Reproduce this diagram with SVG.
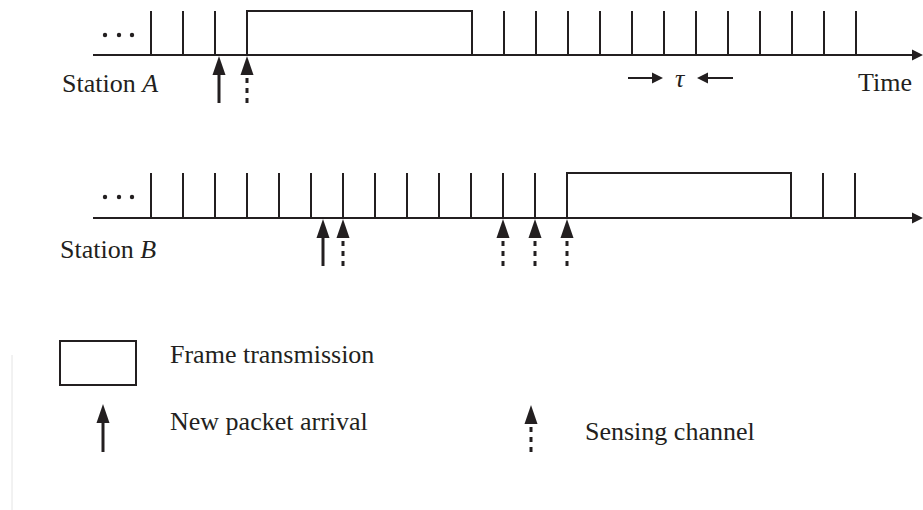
<svg xmlns="http://www.w3.org/2000/svg" width="923" height="510" viewBox="0 0 923 510">
<style>
.ln{stroke:#231f20;stroke-width:2;fill:none}
.tk{stroke:#231f20;stroke-width:2}
.sh{stroke:#231f20;stroke-width:3}
.ds{stroke:#231f20;stroke-width:3;stroke-dasharray:5 5}
.hd{fill:#231f20}
.tx{font-family:"Liberation Serif","Times New Roman",serif;font-size:26px;fill:#231f20}
</style>
<defs>
<path id="up" d="M0,0 L-6.5,19 L6.5,19 Z"/>
<path id="rt" d="M0,0 L-11,-5.5 L-11,5.5 Z"/>
</defs>
<line x1="12" y1="355" x2="12" y2="510" stroke="#e4e4e4" stroke-width="1"/>
<g id="stationA">
<line class="ln" x1="93" y1="55" x2="914" y2="55"/>
<use href="#rt" class="hd" x="923" y="55"/>
<circle cx="105" cy="35" r="2.2" class="hd"/><circle cx="119" cy="35" r="2.2" class="hd"/><circle cx="132" cy="35" r="2.2" class="hd"/>
<path class="tk" d="M151,11V55M183,11V55M215,11V55M504,11V55M536,11V55M568,11V55M600,11V55M632,11V55M664,11V55M696,11V55M728,11V55M760,11V55M792,11V55M824,11V55M856,11V55"/>
<rect class="ln" x="247" y="11" width="225" height="44"/>
<text class="tx" x="62" y="92">Station <tspan font-style="italic">A</tspan></text>
<text class="tx" x="858" y="91">Time</text>
<line class="tk" x1="628" y1="78" x2="652" y2="78"/>
<use href="#rt" class="hd" x="663" y="78"/>
<text class="tx" x="675" y="87" font-style="italic" font-size="32">τ</text>
<line class="tk" x1="708" y1="78" x2="733" y2="78"/>
<use href="#rt" class="hd" x="697" y="78" transform="rotate(180 697 78)"/>
</g>
<g id="stationB">
<line class="ln" x1="93" y1="218" x2="914" y2="218"/>
<use href="#rt" class="hd" x="923" y="218"/>
<circle cx="105" cy="197" r="2.2" class="hd"/><circle cx="119" cy="197" r="2.2" class="hd"/><circle cx="132" cy="197" r="2.2" class="hd"/>
<path class="tk" d="M151,173V218M183,173V218M215,173V218M247,173V218M279,173V218M311,173V218M343,173V218M375,173V218M407,173V218M439,173V218M471,173V218M503,173V218M535,173V218M823,173V218M855,173V218"/>
<rect class="ln" x="567" y="173" width="224" height="45"/>
<text class="tx" x="60" y="258">Station <tspan font-style="italic">B</tspan></text>
</g>
<g id="connectors">
<use href="#up" class="hd" x="219" y="56"/><line class="sh" x1="219" y1="72" x2="219" y2="103"/>
<use href="#up" class="hd" x="247" y="56"/><line class="ds" x1="247" y1="78" x2="247" y2="103"/>
<use href="#up" class="hd" x="323" y="219"/><line class="sh" x1="323" y1="235" x2="323" y2="266"/>
<use href="#up" class="hd" x="343" y="219"/><line class="ds" x1="343" y1="241" x2="343" y2="266"/>
<use href="#up" class="hd" x="503" y="219"/><line class="ds" x1="503" y1="241" x2="503" y2="266"/>
<use href="#up" class="hd" x="535" y="219"/><line class="ds" x1="535" y1="241" x2="535" y2="266"/>
<use href="#up" class="hd" x="567" y="219"/><line class="ds" x1="567" y1="241" x2="567" y2="266"/>
</g>
<g id="legend">
<rect class="ln" x="60" y="341" width="76" height="44"/>
<text class="tx" x="170" y="363">Frame transmission</text>
<use href="#up" class="hd" x="103" y="404"/><line class="sh" x1="103" y1="420" x2="103" y2="452"/>
<text class="tx" x="170" y="430">New packet arrival</text>
<use href="#up" class="hd" x="531" y="405"/><line class="ds" x1="531" y1="427" x2="531" y2="452"/>
<text class="tx" x="585" y="440">Sensing channel</text>
</g>
</svg>
